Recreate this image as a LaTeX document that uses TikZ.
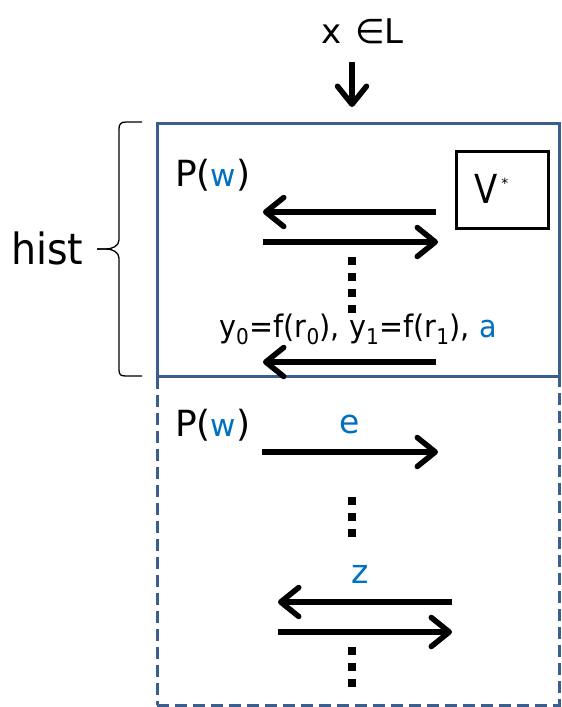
\documentclass[tikz,border=0pt]{standalone}
\usepackage{fontspec}
\setmainfont{DejaVu Sans}
\usetikzlibrary{arrows.meta}
\definecolor{boxblue}{HTML}{3A5F8F}
\definecolor{txtblue}{HTML}{0070C0}
\begin{document}
\begin{tikzpicture}[x=1pt,y=-1pt,
  arr/.style={line width=5.5pt,-{Straight Barb[length=18pt,width=29pt,line cap=round,line join=round]}},
  frame/.style={draw=boxblue,line width=3pt,inner sep=0pt,outer sep=0pt},
  dotsq/.style={fill=black,minimum size=8pt,inner sep=0pt,outer sep=0pt},
  big/.style={font=\fontsize{33}{38}\selectfont,inner sep=0pt},
  pw/.style={font=\fontsize{36}{40}\selectfont,inner sep=0pt},
  lbl/.style={font=\fontsize{31}{36}\selectfont,inner sep=0pt},
  brace/.style={line width=1.3pt,line join=round}
]
\useasboundingbox (0,0) rectangle (562,707);
% frames
\node[frame,dash pattern=on 12pt off 6pt,minimum width=402pt,minimum height=329pt] (bot) at (358,540.5) {};
\node[frame,minimum width=402pt,minimum height=253pt] (top) at (358,249.5) {};
\node[draw=black,line width=3pt,minimum width=92pt,minimum height=77pt,inner sep=0pt] (vbox) at (502,189.5) {};
% texts
\node[font=\fontsize{34}{40}\selectfont,inner sep=0pt,anchor=base west] (xl) at (321,43) {x\hspace{14pt}∈L};
\node[font=\fontsize{43}{48}\selectfont,inner sep=0pt,anchor=base west] (hist) at (11,264) {\scalebox{0.92}[1]{hist}};
\node[pw,anchor=base west] (p1) at (175,186) {P({\fontsize{31}{33}\selectfont\textcolor{txtblue}{w}})};
\node[pw,anchor=base west] (p2) at (175,436) {P({\fontsize{31}{33}\selectfont\textcolor{txtblue}{w}})};
\node[font=\fontsize{40}{44}\selectfont,inner sep=0pt,anchor=base west] (vs) at (474,203) {\scalebox{0.85}[1]{V}\hspace{4pt}{\fontsize{14}{14}\selectfont\raisebox{15pt}{*}}};
\node[lbl,anchor=base west] (lab) at (219,337) {\scalebox{0.925}[1]{y\textsubscript{0}=f(r\textsubscript{0}), y\textsubscript{1}=f(r\textsubscript{1}), \textcolor{txtblue}{a}}};
\node[big,anchor=base,text=txtblue] (e) at (350,433) {e};
\node[big,anchor=base,text=txtblue] (z) at (360,583) {z};
% arrow end coordinates
\coordinate (in0) at (352,62);
\coordinate (in1) at (352,107);
\coordinate (a1s) at (436,212); \coordinate (a1e) at (263,212);
\coordinate (a2s) at (263,242); \coordinate (a2e) at (438,242);
\coordinate (a3s) at (436,362); \coordinate (a3e) at (263,362);
\coordinate (b1s) at (262,452); \coordinate (b1e) at (438,452);
\coordinate (b2s) at (452,602); \coordinate (b2e) at (278,602);
\coordinate (b3s) at (278,632); \coordinate (b3e) at (452,632);
\draw[arr] (in0) -- (in1);
\draw[arr] (a1s) -- (a1e);
\draw[arr] (a2s) -- (a2e);
\draw[arr] (a3s) -- (a3e);
\draw[arr] (b1s) -- (b1e);
\draw[arr] (b2s) -- (b2e);
\draw[arr] (b3s) -- (b3e);
% dots
\foreach \y [count=\i] in {261,277,293,309,501,517,533,651,667,683}
  \node[dotsq] (d\i) at (352,\y) {};
% brace
\draw[brace] (142,122) -- (126,122) .. controls (121,122) and (119,124) .. (119,129) -- (119,240) .. controls (119,246) and (112,249) .. (106,249) -- (97,249);
\draw[brace] (97,249) -- (106,249) .. controls (112,249) and (119,252) .. (119,258) -- (119,370) .. controls (119,375) and (121,376) .. (126,376) -- (142,376);
\end{tikzpicture}
\end{document}
